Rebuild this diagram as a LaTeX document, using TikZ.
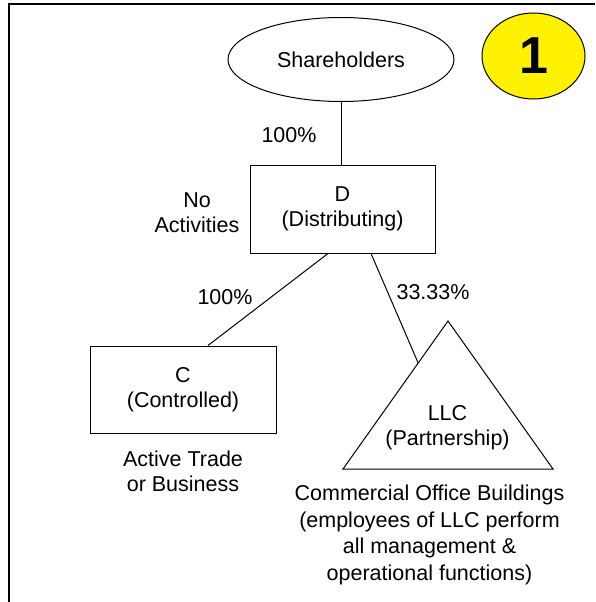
\documentclass[tikz,border=0pt]{standalone}
\usepackage{fontspec}
\setmainfont{Liberation Sans}
\usetikzlibrary{shapes.geometric,calc}
\tikzset{
  txt/.style={font=\fontsize{21.5}{25}\selectfont, align=center, inner sep=0pt},
  entity/.style={txt, draw, line width=1pt},
}
\begin{document}
\begin{tikzpicture}[x=1pt,y=-1pt,line width=1pt]
        \useasboundingbox (0,0) rectangle (595,602);
        %%Frame
        \draw[line width=2pt] (9,602) -- (9,4.5) -- (595,4.5);
        %%Entities
        \node[entity, ellipse, minimum width=226pt, minimum height=84pt] (sh) at (341,59.5) {Shareholders};
        \node[entity, ellipse, fill=yellow, minimum width=103pt, minimum height=86pt,
              font=\fontsize{52}{52}\selectfont\bfseries] (num) at (533.5,56) {1};
        \node[entity, minimum width=185pt, minimum height=88pt] (D) at (342.5,209) {D\\(Distributing)};
        \node[entity, minimum width=186pt, minimum height=87pt] (C) at (183,389.5) {C\\(Controlled)};
        %%LLC triangle
        \coordinate (llcL) at (343,469);
        \coordinate (llcR) at (553,469);
        \coordinate (llcT) at (448,321);
        \draw (llcL) -- (llcT) -- (llcR) -- cycle;
        \node[txt] (llc) at (447.5,427.7) {LLC\\(Partnership)};
        %%Ownership
        \coordinate (llcIn) at ($(llcL)!0.716!(llcT)$);
        \draw (sh.south) -- (sh.south |- D.north);
        \draw ([xshift=-14.5pt]D.south) -- ([xshift=25pt]C.north);
        \draw ([xshift=28.5pt]D.south) -- (llcIn);
        %%Labels
        \node[txt] (pctSh) at (289,135) {100\%};
        \node[txt] (noAct) at (197,212.7) {No\\Activities};
        \node[txt] (pctC) at (225,297.5) {100\%};
        \node[txt] (pctLLC) at (433,292.5) {33.33\%};
        \node[txt] (atb) at (183,471.3) {Active Trade\\or Business};
        \node[txt, font=\fontsize{21.5}{26.5}\selectfont] (cob) at (429.5,534.8)
             {Commercial Office Buildings\\(employees of LLC perform\\all management \&\\operational functions)};
\end{tikzpicture}
\end{document}
